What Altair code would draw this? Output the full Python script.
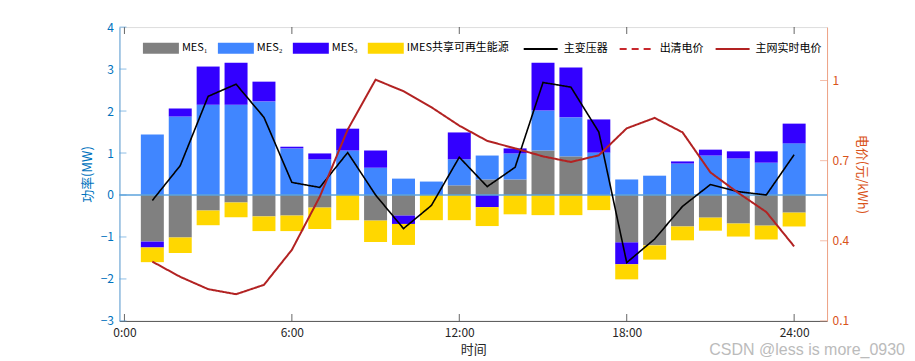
import altair as alt
import pandas as pd

hours = list(range(1, 25))
mes1 = [-1.11, -1.01, -0.37, -0.18, -0.51, -0.49, -0.30, 0.0, -0.61, -0.49, 0.0, 0.23,
        0.37, 0.37, 1.06, 0.92, 0.0, -1.13, -1.20, -0.75, -0.54, -0.68, -0.73, -0.42]
mes2 = [1.44, 1.87, 2.15, 2.15, 2.23, 1.11, 0.85, 1.06, 0.65, 0.39, 0.32, 0.62,
        0.57, 0.62, 0.95, 0.93, 1.01, 0.37, 0.46, 0.75, 0.94, 0.87, 0.77, 1.23]
mes3 = [-0.14, 0.19, 0.91, 1.00, 0.47, 0.04, 0.14, 0.52, 0.41, -0.20, 0.0, 0.64,
        -0.29, 0.12, 1.14, 1.19, 0.79, -0.52, 0.0, 0.05, 0.14, 0.17, 0.27, 0.47]
imes = [-0.35, -0.37, -0.35, -0.35, -0.35, -0.37, -0.51, -0.60, -0.51, -0.50, -0.60, -0.60,
        -0.45, -0.46, -0.48, -0.48, -0.36, -0.36, -0.34, -0.33, -0.31, -0.31, -0.33, -0.33]
transformer = [-0.13, 0.70, 2.35, 2.64, 1.85, 0.30, 0.18, 1.01, 0.0, -0.80, -0.25, 0.90,
               0.20, 0.66, 2.68, 2.57, 1.50, -1.61, -1.05, -0.27, 0.25, 0.08, 0.0, 0.96]
grid_price = [0.322, 0.265, 0.219, 0.200, 0.235, 0.366, 0.565, 0.816, 1.003, 0.960, 0.900, 0.831,
              0.774, 0.746, 0.716, 0.695, 0.720, 0.821, 0.860, 0.806, 0.656, 0.579, 0.508, 0.379]

bar_names = ["MES₁", "MES₂", "MES₃", "IMES共享可再生能源"]
bar_colors = ["#808080", "#4086FF", "#3300FF", "#FFD700"]
line_names = ["主变压器", "出清电价", "主网实时电价"]
line_colors = ["#000000", "#C8282D", "#B22222"]
line_dashes = [[1, 0], [7, 5], [1, 0]]

x_ticks = [0, 6, 12, 18, 24]
left_ticks = [-3, -2, -1, 0, 1, 2, 3, 4]
right_ticks = [0.1, 0.4, 0.7, 1.0]
watermark = "CSDN @less is more_0930"

FONT = "Noto Sans CJK SC"
W, H = 708, 294
LEFT_C = "#0072BD"
RIGHT_C = "#D95319"

rows = []
for i, name in enumerate(bar_names):
    vals = [mes1, mes2, mes3, imes][i]
    for h, v in zip(hours, vals):
        rows.append({"hour": h, "series": name, "value": v, "idx": i})
bars_df = pd.DataFrame(rows)

xscale = alt.Scale(domain=[0, 25], nice=False, zero=False)
yl = alt.Scale(domain=[-3, 4], nice=False, zero=False)
yr = alt.Scale(domain=[0.1, 1.2], nice=False, zero=False)

x_axis = alt.Axis(values=x_ticks, labelExpr="datum.value + ':00'", ticks=False, grid=False,
                  domainColor="#555555", labelColor="#262626", labelFont=FONT, labelFontSize=12,
                  labelPadding=7, title="时间", titleFont=FONT, titleFontSize=13,
                  titleFontWeight="normal", titleColor="#262626", titlePadding=5)

fill_legend = alt.Legend(orient="none", legendX=23.5, legendY=3, direction="horizontal", title=None,
                         symbolType="M-1,-0.31H1V0.31H-1Z", symbolSize=1296,
                         symbolStrokeWidth=0, labelOffset=3, columnPadding=10, padding=0,
                         labelFont=FONT, labelFontSize=11, labelColor="#000000")
stroke_legend = alt.Legend(orient="none", legendX=403.5, legendY=4, direction="horizontal", title=None,
                           symbolType="stroke", symbolSize=1156, symbolStrokeWidth=2,
                           labelOffset=5, columnPadding=8, padding=0,
                           labelFont=FONT, labelFontSize=11, labelColor="#000000")

stroke_enc = alt.Stroke("series:N", scale=alt.Scale(domain=line_names, range=line_colors),
                        legend=stroke_legend)
dash_enc = alt.StrokeDash("series:N", scale=alt.Scale(domain=line_names, range=line_dashes),
                          legend=stroke_legend)

bars = alt.Chart(bars_df).mark_bar(size=23).encode(
    x=alt.X("hour:Q", scale=xscale, axis=x_axis),
    y=alt.Y("value:Q", scale=yl, stack="zero",
            axis=alt.Axis(values=left_ticks, ticks=False, grid=False, domainColor="#5DA3DC",
                          labelColor=LEFT_C, labelFont=FONT, labelFontSize=12, labelPadding=6,
                          title="功率(MW)", titleColor=LEFT_C, titleFont=FONT, titleFontSize=13,
                          titleFontWeight="normal", titlePadding=6)),
    fill=alt.Fill("series:N", scale=alt.Scale(domain=bar_names, range=bar_colors),
                  legend=fill_legend),
    order=alt.Order("idx:Q", sort="ascending"),
)

zero_rule = alt.Chart(pd.DataFrame({"z": [0]})).mark_rule(color="#5DA3DC", strokeWidth=1.4).encode(
    y=alt.Y("z:Q", scale=yl)
)

tr_df = pd.DataFrame({"hour": hours, "value": transformer, "series": line_names[0]})
tr_line = alt.Chart(tr_df).mark_line(strokeWidth=1.6).encode(
    x=alt.X("hour:Q", scale=xscale, axis=x_axis),
    y=alt.Y("value:Q", scale=yl),
    stroke=stroke_enc,
    strokeDash=dash_enc,
)

xt_df = pd.DataFrame({"v": x_ticks})
xt_bottom = alt.Chart(xt_df).mark_tick(color="#262626", thickness=1, size=7).encode(
    x=alt.X("v:Q", scale=xscale, axis=x_axis), y=alt.value(H - 3.5))
xt_top = alt.Chart(xt_df).mark_tick(color="#262626", thickness=1, size=7).encode(
    x=alt.X("v:Q", scale=xscale, axis=x_axis), y=alt.value(3.5))
lt = alt.Chart(pd.DataFrame({"v": left_ticks})).mark_tick(color="#5DA3DC", thickness=1, size=7).encode(
    y=alt.Y("v:Q", scale=yl), x=alt.value(3.5))

wm = alt.Chart(pd.DataFrame({"t": [watermark]})).mark_text(
    font="Liberation Sans", fontSize=16, color="#BBBBBB", align="right", baseline="middle"
).encode(text="t:N", x=alt.value(W + 78), y=alt.value(H + 29))

left = alt.layer(bars, zero_rule, xt_bottom, xt_top, lt, tr_line, wm)

gp_df = pd.DataFrame({"hour": hours, "value": grid_price, "series": line_names[2]})
gp_line = alt.Chart(gp_df).mark_line(strokeWidth=2).encode(
    x=alt.X("hour:Q", scale=xscale, axis=x_axis),
    y=alt.Y("value:Q", scale=yr,
            axis=alt.Axis(orient="right", values=right_ticks, format="~g", ticks=False, grid=False,
                          domainColor="#EFA487", labelColor=RIGHT_C, labelFont=FONT, labelFontSize=12,
                          labelPadding=5, title="电价(元/kWh)", titleColor=RIGHT_C, titleFont=FONT,
                          titleFontSize=13, titleFontWeight="normal", titleAngle=90, titlePadding=6)),
    stroke=stroke_enc,
    strokeDash=dash_enc,
)
rt = alt.Chart(pd.DataFrame({"v": right_ticks})).mark_tick(color="#EFA487", thickness=1, size=7).encode(
    y=alt.Y("v:Q", scale=yr), x=alt.value(W - 3.5))

right = alt.layer(gp_line, rt)

chart = alt.layer(left, right).resolve_scale(y="independent").properties(
    width=W, height=H,
    autosize=alt.AutoSizeParams(type="none"),
    padding={"left": 111.5, "top": 19, "right": 80, "bottom": 40},
).configure_view(stroke=None).configure(font=FONT)

chart.save("out.html", embed_options={"renderer": "svg", "actions": False})
